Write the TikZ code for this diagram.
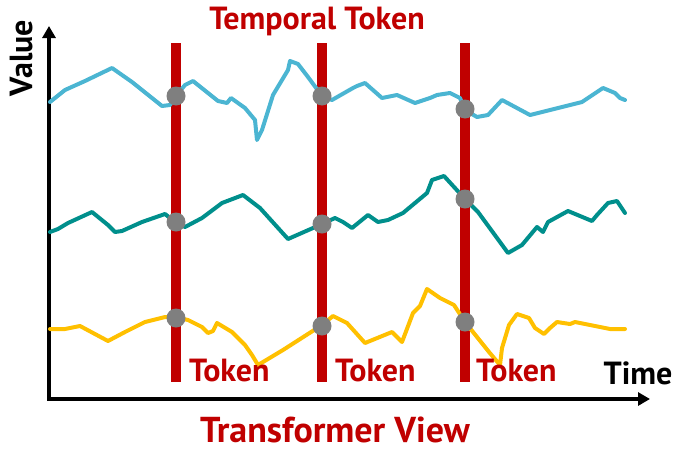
\documentclass[tikz,border=0pt]{standalone}
\usepackage{fontspec}
\setmainfont{PT Sans}
\usetikzlibrary{arrows.meta}
\definecolor{tokred}{HTML}{C00000}
\definecolor{serblue}{HTML}{4BB5D2}
\definecolor{serteal}{HTML}{008F8C}
\definecolor{seryellow}{HTML}{FFC000}
\definecolor{dotgray}{HTML}{7F7F7F}
\begin{document}
\begin{tikzpicture}[x=1pt,y=-1pt,
  axis/.style={line width=4pt,-{Triangle[length=12pt,width=13pt]}},
  series/.style={line width=4pt,line join=round,line cap=round},
  tokbar/.style={line width=10pt,tokred},
  sample/.style={circle,fill=dotgray,inner sep=0pt,minimum size=19pt},
  redlabel/.style={text=tokred,font=\bfseries\fontsize{32}{32}\selectfont,inner sep=0pt,text depth=0pt},
  blacklabel/.style={text=black,font=\bfseries\fontsize{32}{32}\selectfont,inner sep=0pt,text depth=0pt}]
\useasboundingbox (0,0) rectangle (674,450);

% axes
\coordinate (O) at (49,399);
\coordinate (ytip) at (49,26);
\coordinate (xtip) at (650,399);
\draw[axis] (O) -- (ytip);
\draw[axis] (47,399) -- (xtip);
\node[blacklabel,rotate=90] (value) at (21,58) {Value};
\node[blacklabel,anchor=base] (time) at (638,384) {Time};

% temporal token bars
\foreach \n/\x in {1/176,2/322,3/465}{
  \coordinate (bt\n) at (\x,43);
  \coordinate (bb\n) at (\x,382);
  \draw[tokbar] (bt\n) -- (bb\n);
}

% three time series
\draw[series,serblue] (50,102) -- (65,90) -- (85,81) -- (112,68) -- (132,82) -- (162,106)
  -- (170,105) -- (176,96) -- (185,85) -- (193,81) -- (218,101) -- (227,103) -- (231,98)
  -- (245,108) -- (255,120) -- (257,140) -- (262,130) -- (273,95) -- (285,75) -- (288,70)
  -- (290,61) -- (298,64) -- (308,77) -- (322,96) -- (332,100) -- (353,88) -- (357,86)
  -- (365,83) -- (382,98) -- (397,95) -- (415,103) -- (430,98) -- (437,95) -- (450,93)
  -- (460,98) -- (465,110) -- (477,117) -- (488,115) -- (502,100) -- (530,115)
  -- (582,102) -- (603,88) -- (615,93) -- (620,98) -- (625,100);

\draw[series,serteal] (50,232) -- (58,229) -- (68,223) -- (92,212) -- (108,225) -- (115,232)
  -- (122,231) -- (142,222) -- (165,214) -- (175,222) -- (185,227) -- (202,218)
  -- (222,203) -- (243,195) -- (260,208) -- (288,239) -- (313,228) -- (322,224)
  -- (335,218) -- (343,222) -- (352,228) -- (368,215) -- (378,222) -- (388,220)
  -- (403,213) -- (427,193) -- (432,180) -- (444,176) -- (465,199) -- (478,212)
  -- (508,253) -- (522,245) -- (537,227) -- (543,232) -- (548,222) -- (568,211)
  -- (592,221) -- (597,215) -- (608,203) -- (617,201) -- (625,213);

\draw[series,seryellow] (50,329) -- (65,329) -- (80,326) -- (108,341) -- (125,332)
  -- (145,322) -- (165,317) -- (175,317) -- (188,320) -- (202,327) -- (208,333)
  -- (213,331) -- (217,323) -- (232,332) -- (245,345) -- (252,355) -- (258,365)
  -- (283,350) -- (322,325) -- (333,316) -- (347,323) -- (365,343) -- (392,332)
  -- (402,342) -- (413,313) -- (420,306) -- (427,289) -- (440,298) -- (454,305)
  -- (465,322) -- (477,337) -- (489,352) -- (500,365) -- (502,348) -- (509,325)
  -- (517,314) -- (529,318) -- (535,328) -- (544,334) -- (550,328) -- (557,322)
  -- (570,324) -- (575,322) -- (590,325) -- (610,329) -- (625,329);

% sampled points on the token bars
\node[sample] (b1) at (176,96) {};
\node[sample] (b2) at (322,96) {};
\node[sample] (b3) at (465,109) {};
\node[sample] (t1) at (176,222) {};
\node[sample] (t2) at (322,224) {};
\node[sample] (t3) at (465,199) {};
\node[sample] (y1) at (176,318) {};
\node[sample] (y2) at (322,326) {};
\node[sample] (y3) at (465,322) {};

% labels
\node[redlabel,anchor=base] (temporal) at (317,29) {Temporal Token};
\node[redlabel,anchor=base west] (tok1) at (189,381) {Token};
\node[redlabel,anchor=base west] (tok2) at (335,381) {Token};
\node[redlabel,anchor=base west] (tok3) at (476,381) {Token};
\node[redlabel,anchor=base,font=\bfseries\fontsize{36}{36}\selectfont] (view) at (335,442) {Transformer View};
\end{tikzpicture}
\end{document}
